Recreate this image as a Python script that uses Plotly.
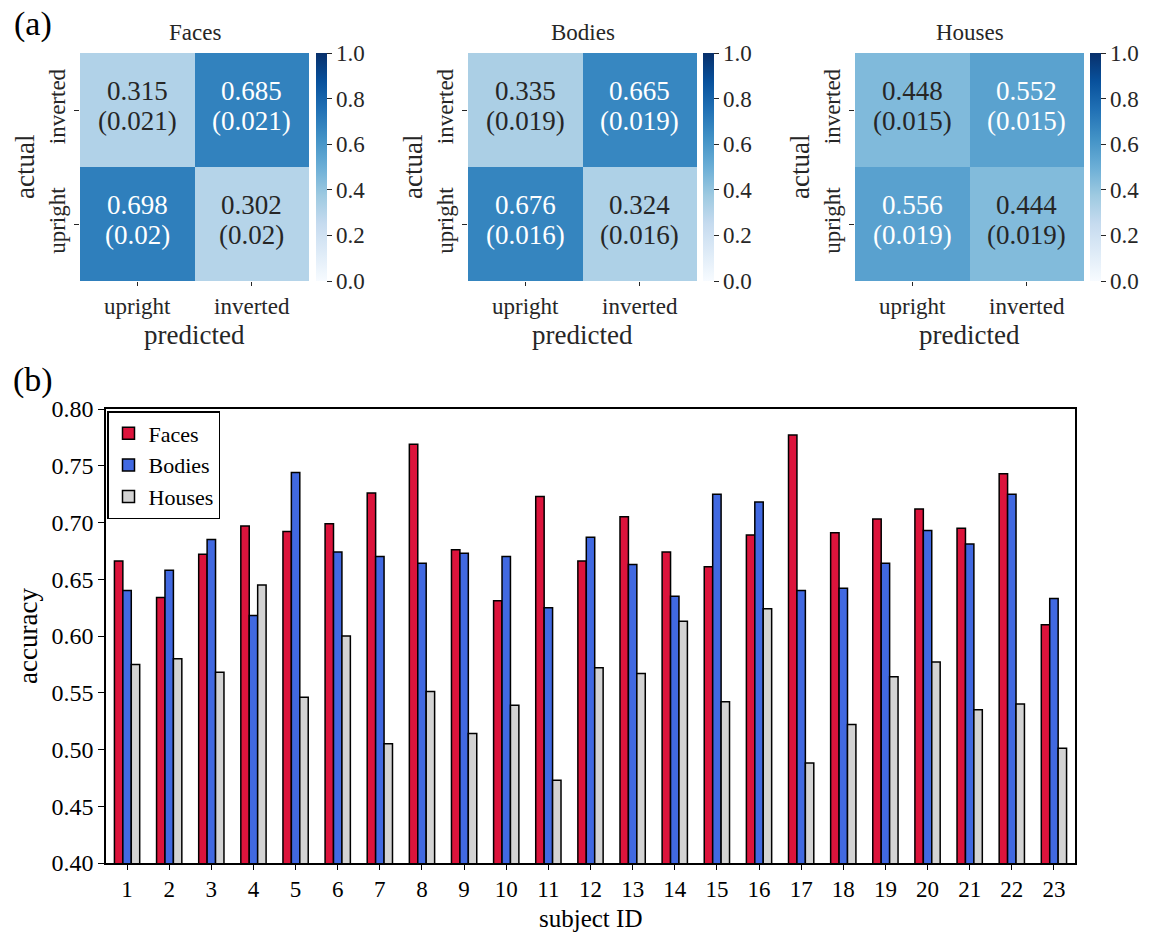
import plotly.graph_objects as go
import plotly.colors as pc

# ---------------- data ----------------
cm_labels = ["upright", "inverted"]
cm_titles = ["Faces", "Bodies", "Houses"]
# rows: actual (upright, inverted); cols: predicted (upright, inverted)
faces_cm = [[0.698, 0.302], [0.315, 0.685]]
faces_sd = [["0.02", "0.02"], ["0.021", "0.021"]]
bodies_cm = [[0.676, 0.324], [0.335, 0.665]]
bodies_sd = [["0.016", "0.016"], ["0.019", "0.019"]]
houses_cm = [[0.556, 0.444], [0.448, 0.552]]
houses_sd = [["0.019", "0.019"], ["0.015", "0.015"]]

subjects = list(range(1, 24))
faces_acc = [0.666, 0.634, 0.672, 0.697, 0.692, 0.699, 0.726, 0.769, 0.676, 0.631, 0.723, 0.666,
             0.705, 0.674, 0.661, 0.689, 0.777, 0.691, 0.703, 0.712, 0.695, 0.743, 0.610]
bodies_acc = [0.640, 0.658, 0.685, 0.618, 0.744, 0.674, 0.670, 0.664, 0.673, 0.670, 0.625, 0.687,
              0.663, 0.635, 0.725, 0.718, 0.640, 0.642, 0.664, 0.693, 0.681, 0.725, 0.633]
houses_acc = [0.575, 0.580, 0.568, 0.645, 0.546, 0.600, 0.505, 0.551, 0.514, 0.539, 0.473, 0.572,
              0.567, 0.613, 0.542, 0.624, 0.488, 0.522, 0.564, 0.577, 0.535, 0.540, 0.501]
y_ticks = [0.40, 0.45, 0.50, 0.55, 0.60, 0.65, 0.70, 0.75, 0.80]

# ---------------- style ----------------
FONT = "Liberation Serif"
W, H = 1163, 936
DARK = "#262626"
blues = pc.sequential.Blues
cscale = [[i / (len(blues) - 1), c] for i, c in enumerate(blues)]


def px_x(p):
    return p / W


def px_y(p):
    return 1 - p / H


def label(x, y, text, size, color="black", angle=0):
    return dict(x=px_x(x), y=px_y(y), xref="paper", yref="paper", text=text,
                showarrow=False, xanchor="center", yanchor="middle", textangle=angle,
                font=dict(family=FONT, size=size, color=color))


fig = go.Figure()

hm_left = [80, 468, 855]
hm_w = 229
hm_top, hm_bot = 53, 281
cb_x = [316, 703, 1090]

cms = [faces_cm, bodies_cm, houses_cm]
sds = [faces_sd, bodies_sd, houses_sd]
annotations = []
layout_axes = {}

for k in range(3):
    xa = "x" if k == 0 else f"x{k+1}"
    ya = "y" if k == 0 else f"y{k+1}"
    fig.add_trace(go.Heatmap(
        z=cms[k], x=cm_labels, y=cm_labels, zmin=0, zmax=1,
        colorscale=cscale, xaxis=xa, yaxis=ya, hoverinfo="skip",
        colorbar=dict(
            x=px_x(cb_x[k]), xanchor="left", xref="paper",
            y=px_y((hm_top + hm_bot) / 2), yanchor="middle",
            len=(hm_bot - hm_top) / H, lenmode="fraction",
            thickness=11, thicknessmode="pixels", outlinewidth=0,
            xpad=0, ypad=0,
            tickvals=[0, 0.2, 0.4, 0.6, 0.8, 1.0], ticktext=["0.0", "0.2", "0.4", "0.6", "0.8", "1.0"],
            ticks="outside", ticklen=5, tickcolor=DARK,
            tickfont=dict(family=FONT, size=23, color=DARK),
        ),
    ))
    axn = "xaxis" if k == 0 else f"xaxis{k+1}"
    ayn = "yaxis" if k == 0 else f"yaxis{k+1}"
    layout_axes[axn] = dict(
        domain=[px_x(hm_left[k]), px_x(hm_left[k] + hm_w)], anchor=ya,
        showgrid=False, zeroline=False, showline=False,
        ticks="outside", ticklen=4, tickcolor=DARK,
        tickfont=dict(family=FONT, size=23, color=DARK),
    )
    layout_axes[ayn] = dict(
        domain=[px_y(hm_bot), px_y(hm_top)], anchor=xa,
        showgrid=False, zeroline=False, showline=False,
        ticks="outside", ticklen=5, tickcolor=DARK, tickangle=-90,
        tickfont=dict(family=FONT, size=23, color=DARK),
    )
    # cell texts
    for r in range(2):
        for c in range(2):
            v = cms[k][r][c]
            col = "white" if v > 0.5 else DARK
            annotations.append(dict(
                x=cm_labels[c], y=cm_labels[r], xref=xa, yref=ya,
                text=f"{v:.3f}", showarrow=False, yshift=19,
                xanchor="center", yanchor="middle",
                font=dict(family=FONT, size=27, color=col)))
            annotations.append(dict(
                x=cm_labels[c], y=cm_labels[r], xref=xa, yref=ya,
                text=f"({sds[k][r][c]})", showarrow=False, yshift=-11,
                xanchor="center", yanchor="middle",
                font=dict(family=FONT, size=27, color=col)))
    # titles
    cx = hm_left[k] + hm_w / 2
    annotations.append(label(cx, 33, cm_titles[k], 23, DARK))
    annotations.append(label(cx, 335, "predicted", 27, DARK))
    annotations.append(label(hm_left[k] - 55, (hm_top + hm_bot) / 2, "actual", 27, DARK, -90))

# ---------------- bar chart ----------------
bar_specs = [("Faces", faces_acc, "#DC143C"),
             ("Bodies", bodies_acc, "#4169E1"),
             ("Houses", houses_acc, "#D3D3D3")]
for name, vals, color in bar_specs:
    fig.add_trace(go.Bar(
        x=subjects, y=vals, name=name, xaxis="x4", yaxis="y4",
        marker=dict(color=color, line=dict(color="black", width=1.5)),
    ))

layout_axes["xaxis4"] = dict(
    domain=[px_x(106), px_x(1075)], anchor="y4", range=[0.5, 23.5],
    tickvals=subjects, ticktext=[str(s) for s in subjects],
    showgrid=False, zeroline=False, showline=True, mirror=True,
    linecolor="black", linewidth=1.5, ticks="outside", ticklen=5, tickcolor="black",
    tickfont=dict(family=FONT, size=23, color="black"),
)
layout_axes["yaxis4"] = dict(
    domain=[px_y(863), px_y(409)], anchor="x4", range=[0.40, 0.80],
    tickvals=y_ticks, ticktext=[f"{t:.2f}" for t in y_ticks],
    showgrid=False, zeroline=False, showline=True, mirror=True,
    linecolor="black", linewidth=1.5, ticks="outside", ticklen=6, tickcolor="black",
    tickfont=dict(family=FONT, size=24, color="black"),
)
annotations.append(label(590, 918, "subject ID", 25))
annotations.append(label(28, 636, "accuracy", 27, angle=-90))
annotations.append(label(33, 24, "(a)", 34))
annotations.append(label(33, 380, "(b)", 34))

fig.update_layout(
    width=W, height=H, margin=dict(l=0, r=0, t=0, b=0, autoexpand=False),
    paper_bgcolor="white", plot_bgcolor="white",
    barmode="group", bargap=0.4, bargroupgap=0,
    font=dict(family=FONT, color="black"),
    annotations=annotations,
    legend=dict(x=px_x(107), y=px_y(411), xanchor="left", yanchor="top",
                bgcolor="white", bordercolor="black", borderwidth=1.5,
                font=dict(family=FONT, size=22, color="black"),
                tracegroupgap=0, itemwidth=30),
    showlegend=True,
    **layout_axes,
)

fig.write_html("out.html", config={"displayModeBar": False},
               post_script="document.body.style.margin='0';")
